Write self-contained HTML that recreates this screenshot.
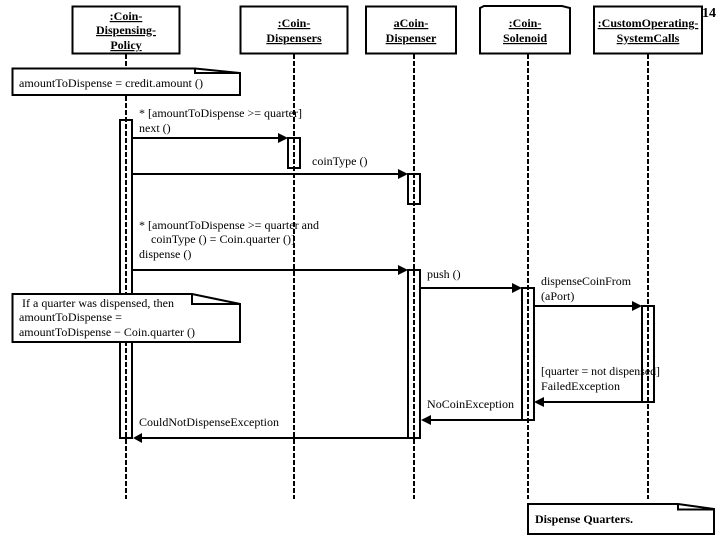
<!DOCTYPE html>
<html>
<head>
<meta charset="utf-8">
<style>
html,body{margin:0;padding:0;background:#fff}
svg{display:block}
text{font-family:"Liberation Serif",serif;font-size:12px;fill:#000}
.h{font-weight:bold;text-decoration:underline;text-anchor:middle}
</style>
</head>
<body>
<svg width="720" height="540" viewBox="0 0 720 540" xmlns="http://www.w3.org/2000/svg">
<rect width="720" height="540" fill="#fff"/>
<g fill="#fff" stroke="#000" stroke-width="2">
<rect x="72.5" y="6.5" width="107" height="47"/>
<rect x="240.5" y="6.5" width="107" height="47"/>
<rect x="366" y="6.5" width="90" height="47"/>
<path d="M480 8L484 6H562L570 8V53.5H480Z"/>
<rect x="594" y="6.5" width="108" height="47"/>
</g>
<g stroke="#000" stroke-width="2" stroke-dasharray="5 2" fill="none">
<line x1="126" y1="54" x2="126" y2="499"/>
<line x1="294" y1="54" x2="294" y2="499"/>
<line x1="414" y1="54" x2="414" y2="499"/>
<line x1="528" y1="54" x2="528" y2="499"/>
<line x1="648" y1="54" x2="648" y2="499"/>
</g>
<g fill="none" stroke="#000" stroke-width="2">
<rect x="120" y="120" width="12" height="318"/>
<rect x="288" y="138" width="12" height="30"/>
<rect x="408" y="174" width="12" height="30"/>
<rect x="408" y="270" width="12" height="168"/>
<rect x="522" y="288" width="12" height="132"/>
<rect x="642" y="306" width="12" height="96"/>
<line x1="132" y1="138" x2="282" y2="138"/>
<line x1="132" y1="174" x2="402" y2="174"/>
<line x1="132" y1="270" x2="402" y2="270"/>
<line x1="420" y1="288" x2="516" y2="288"/>
<line x1="534" y1="306" x2="636" y2="306"/>
<line x1="654" y1="402" x2="540" y2="402"/>
<line x1="522" y1="420" x2="426" y2="420"/>
<line x1="408" y1="438" x2="140" y2="438"/>
</g>
<g fill="#000">
<polygon points="278,133 288,138 278,143"/>
<polygon points="398,169 408,174 398,179"/>
<polygon points="398,265 408,270 398,275"/>
<polygon points="512,283 522,288 512,293"/>
<polygon points="632,301 642,306 632,311"/>
<polygon points="534,402 544,397 544,407"/>
<polygon points="421,420 431,415 431,425"/>
<polygon points="133,438 142,433 142,443"/>
</g>
<g fill="#fff" stroke="#000" stroke-width="2" stroke-linejoin="miter">
<path d="M12.5 68.5H195L240 73V95H12.5Z"/>
<path d="M12.5 294H192L240 304V342H12.5Z"/>
<path d="M528 504H678L714 509V534H528Z"/>
</g>
<g fill="none" stroke="#000" stroke-width="2">
<path d="M195 68.5V73H240"/>
<path d="M192 294V304H240"/>
<path d="M678 504V509.5H714"/>
</g>
<text class="h" x="126" y="20">:Coin-</text>
<text class="h" x="126" y="34">Dispensing-</text>
<text class="h" x="126" y="49">Policy</text>
<text class="h" x="294" y="27">:Coin-</text>
<text class="h" x="294" y="42">Dispensers</text>
<text class="h" x="411" y="27">aCoin-</text>
<text class="h" x="411" y="42">Dispenser</text>
<text class="h" x="525" y="27">:Coin-</text>
<text class="h" x="525" y="42">Solenoid</text>
<text class="h" x="648" y="27">:CustomOperating-</text>
<text class="h" x="648" y="42">SystemCalls</text>
<text x="702" y="17" style="font-weight:bold;font-size:14px">14</text>
<text x="19" y="87" textLength="184" lengthAdjust="spacingAndGlyphs">amountToDispense = credit.amount ()</text>
<text x="139" y="117" textLength="163" lengthAdjust="spacingAndGlyphs">* [amountToDispense &gt;= quarter]</text>
<text x="139" y="132">next ()</text>
<text x="312" y="165">coinType ()</text>
<text x="139" y="229" textLength="180" lengthAdjust="spacingAndGlyphs">* [amountToDispense &gt;= quarter and</text>
<text x="151" y="243" textLength="144" lengthAdjust="spacingAndGlyphs">coinType () = Coin.quarter ()]</text>
<text x="139" y="258">dispense ()</text>
<text x="427" y="278">push ()</text>
<text x="541" y="285" textLength="90" lengthAdjust="spacingAndGlyphs">dispenseCoinFrom</text>
<text x="541" y="300">(aPort)</text>
<text x="22" y="307" textLength="152" lengthAdjust="spacingAndGlyphs">If a quarter was dispensed, then</text>
<text x="19" y="321" textLength="103" lengthAdjust="spacingAndGlyphs">amountToDispense =</text>
<text x="19" y="336" textLength="176" lengthAdjust="spacingAndGlyphs">amountToDispense − Coin.quarter ()</text>
<text x="541" y="375" textLength="119" lengthAdjust="spacingAndGlyphs">[quarter = not dispensed]</text>
<text x="541" y="390" textLength="79" lengthAdjust="spacingAndGlyphs">FailedException</text>
<text x="427" y="408" textLength="87" lengthAdjust="spacingAndGlyphs">NoCoinException</text>
<text x="139" y="426" textLength="140" lengthAdjust="spacingAndGlyphs">CouldNotDispenseException</text>
<text x="535" y="523" textLength="98" lengthAdjust="spacingAndGlyphs" style="font-weight:bold">Dispense Quarters.</text>
</svg>
</body>
</html>
